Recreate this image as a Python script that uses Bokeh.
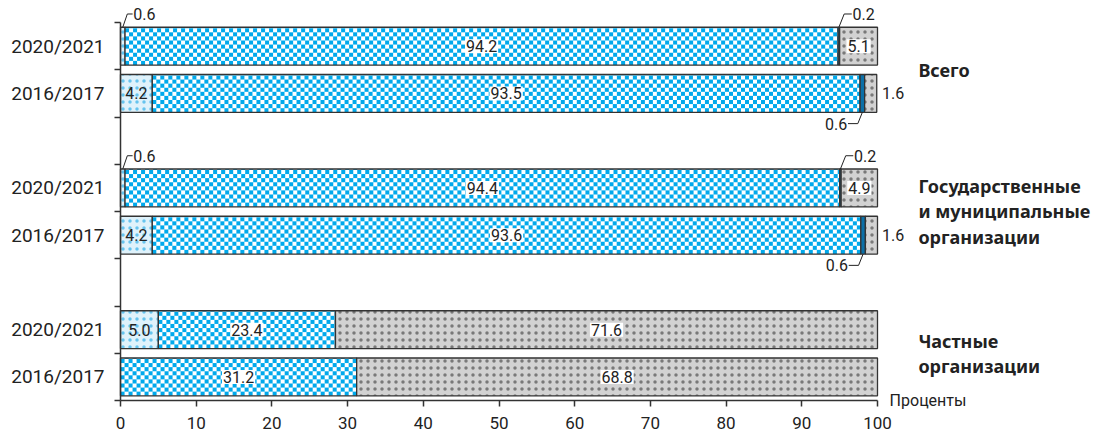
import numpy as np
from bokeh.plotting import figure
from bokeh.models import Range1d, FixedTicker, Label, ColumnDataSource
from bokeh.embed import file_html
from bokeh.resources import INLINE

# ---------------- data ----------------
groups = ["Всего", "Государственные\nи муниципальные\nорганизации", "Частные\nорганизации"]
years = ["2020/2021", "2016/2017"]
# shares (percent) for each bar, top to bottom:
# Всего 20/21, Всего 16/17, Гос 20/21, Гос 16/17, Частные 20/21, Частные 16/17
seg_light = [0.6, 4.2, 0.6, 4.2, 5.0, 0.0]          # light dotted
seg_checker = [94.2, 93.5, 94.4, 93.6, 23.4, 31.2]  # checkered
seg_dark = [0.2, 0.6, 0.2, 0.6, 0.0, 0.0]           # dark solid
seg_grey = [5.1, 1.6, 4.9, 1.6, 71.6, 68.8]         # grey dotted
x_ticks = [0, 10, 20, 30, 40, 50, 60, 70, 80, 90, 100]
x_title = "Проценты"

series = [seg_light, seg_checker, seg_dark, seg_grey]

# ---------------- layout helpers ----------------
n_slots = 8
row_y = []
row_year = []
for gi in range(len(groups)):
    for yi in range(len(years)):
        row_y.append(n_slots - (gi * 3 + yi) - 0.5)
        row_year.append(yi)

W, H = 1097, 432
LEFT = 120       # screen x of the category axis
PX_X = 7.57      # pixels per percent
PX_Y = 47.25     # pixels per slot
AXIS_Y = 400     # screen y of the value axis

BAR_H = 0.8
FONT = "Roboto"
EDGE = "#333333"
CHECK_RGB = (0, 169, 236)

# the frame covers the whole canvas; both axes are drawn at fixed locations
p = figure(width=W, height=H, output_backend="svg", toolbar_location=None,
           x_range=Range1d(-LEFT / PX_X, (W - LEFT) / PX_X),
           y_range=Range1d(-(H - AXIS_Y) / PX_Y, AXIS_Y / PX_Y),
           min_border_left=0, min_border_right=0, min_border_top=0, min_border_bottom=0)
p.outline_line_color = None
p.xgrid.visible = False
p.ygrid.visible = False


def checker_texture(width_units):
    """blue/white checker texture image (4px squares) for one segment"""
    cols = max(1, int(round(width_units * PX_X)))
    rows = int(round(BAR_H * PX_Y))
    jj, ii = np.meshgrid(np.arange(cols), np.arange(rows))
    on = ((jj // 4) + (ii // 4)) % 2 == 0
    img = np.zeros((rows, cols), dtype=np.uint32)
    v = img.view(dtype=np.uint8).reshape((rows, cols, 4))
    v[..., 0] = np.where(on, CHECK_RGB[0], 255)
    v[..., 1] = np.where(on, CHECK_RGB[1], 255)
    v[..., 2] = np.where(on, CHECK_RGB[2], 255)
    v[..., 3] = 255
    return img


styles = [
    dict(fill_color="#dff2fb", hatch_pattern="dot", hatch_color="#3db4ea",
         hatch_scale=7, hatch_weight=1, hatch_alpha=0.75),
    dict(fill_color=None),
    dict(fill_color="#0b70a8"),
    dict(fill_color="#d2d2d2", hatch_pattern="dot", hatch_color="#4a4a4a",
         hatch_scale=7, hatch_weight=1, hatch_alpha=0.65),
]

lefts = [0.0] * len(row_y)
seg_bounds = []
for si, (s, st) in enumerate(zip(series, styles)):
    data = dict(y=[], left=[], right=[])
    bounds = []
    for i, v in enumerate(s):
        l = lefts[i]
        r = l + v
        bounds.append((l, r))
        if v > 0:
            data["y"].append(row_y[i])
            data["left"].append(l)
            data["right"].append(min(r, 100))
        lefts[i] = r
    seg_bounds.append(bounds)
    if si == 1:
        imgs = [checker_texture(rr - ll) for ll, rr in zip(data["left"], data["right"])]
        p.image_rgba(image=imgs,
                     x=data["left"],
                     y=[yy - BAR_H / 2 for yy in data["y"]],
                     dw=[rr - ll for ll, rr in zip(data["left"], data["right"])],
                     dh=[BAR_H] * len(imgs))
    p.hbar(y="y", left="left", right="right", height=BAR_H, source=ColumnDataSource(data),
           line_color=EDGE, line_width=1.3, **st)

# ---------------- value labels ----------------
def add_label(x, y, text, align="center", bg=False):
    kw = dict(x=x, y=y, text=text, text_align=align, text_baseline="middle",
              text_font=FONT, text_font_size="16px", text_color="#222222")
    if bg:
        kw.update(background_fill_color="white", padding=1)
    p.add_layout(Label(**kw))

leader_x, leader_y = [], []
for i, y in enumerate(row_y):
    top = y + BAR_H / 2
    bot = y - BAR_H / 2
    # light segment
    l, r = seg_bounds[0][i]
    v = seg_light[i]
    if v >= 3:
        add_label((l + r) / 2, y, f"{v:.1f}")
    elif v > 0:
        c = (l + r) / 2
        leader_x.append([c, c + 0.6, c + 1.3])
        leader_y.append([top, y + 0.68, y + 0.68])
        add_label(c + 1.4, y + 0.68, f"{v:.1f}", align="left")
    # checker segment
    l, r = seg_bounds[1][i]
    add_label((l + r) / 2, y, f"{seg_checker[i]:.1f}", bg=True)
    # dark segment
    l, r = seg_bounds[2][i]
    v = seg_dark[i]
    if v > 0:
        c = (l + r) / 2
        if row_year[i] == 0:
            leader_x.append([c, c + 0.7, c + 1.7])
            leader_y.append([top, y + 0.68, y + 0.68])
            add_label(c + 1.8, y + 0.68, f"{v:.1f}", align="left")
        else:
            leader_x.append([c, c - 0.6, c - 1.9])
            leader_y.append([bot, y - 0.64, y - 0.64])
            add_label(c - 2.0, y - 0.64, f"{v:.1f}", align="right")
    # grey segment
    l, r = seg_bounds[3][i]
    v = seg_grey[i]
    if v >= 3:
        add_label((l + min(r, 100)) / 2, y, f"{v:.1f}", bg=True)
    elif v > 0:
        add_label(100.6, y, f"{v:.1f}", align="left")

p.multi_line(xs=leader_x, ys=leader_y, line_color="#222222", line_width=1)

# ---------------- group labels ----------------
for gi, g in enumerate(groups):
    gy = n_slots - gi * 3 - 1
    p.add_layout(Label(x=105.4, y=gy, text=g, text_align="left", text_baseline="middle",
                       text_font="Noto Sans", text_font_style="bold", text_font_size="18px",
                       text_color="#222222", text_line_height=1.05))

p.add_layout(Label(x=101.6, y=0.0, text=x_title, text_align="left", text_baseline="middle",
                   text_font=FONT, text_font_size="16px", text_color="#222222"))

# ---------------- axes ----------------
xa = p.xaxis[0]
xa.fixed_location = 0
xa.bounds = (0, 100)
xa.ticker = FixedTicker(ticks=x_ticks)
xa.axis_line_color = "#333333"
xa.axis_line_width = 1.5
xa.major_tick_line_color = "#333333"
xa.major_tick_line_width = 1.5
xa.major_tick_out = 6
xa.major_tick_in = 0
xa.minor_tick_line_color = None
xa.major_label_standoff = 10
xa.major_label_text_font = FONT
xa.major_label_text_font_size = "17px"
xa.major_label_text_color = "#222222"

ya = p.yaxis[0]
ya.fixed_location = 0
ya.bounds = (0, 8)
ya.ticker = FixedTicker(ticks=row_y, minor_ticks=list(range(0, n_slots + 1)))
ya.major_label_overrides = {y: years[row_year[i]] for i, y in enumerate(row_y)}
ya.axis_line_color = "#333333"
ya.axis_line_width = 1.5
ya.major_tick_line_color = None
ya.major_tick_out = 0
ya.major_tick_in = 0
ya.minor_tick_line_color = "#333333"
ya.minor_tick_line_width = 1.5
ya.minor_tick_out = 6
ya.minor_tick_in = 0
ya.major_label_standoff = 10
ya.major_label_text_font = FONT
ya.major_label_text_font_size = "19px"
ya.major_label_text_color = "#222222"

open("out.html", "w").write(file_html(p, INLINE))
